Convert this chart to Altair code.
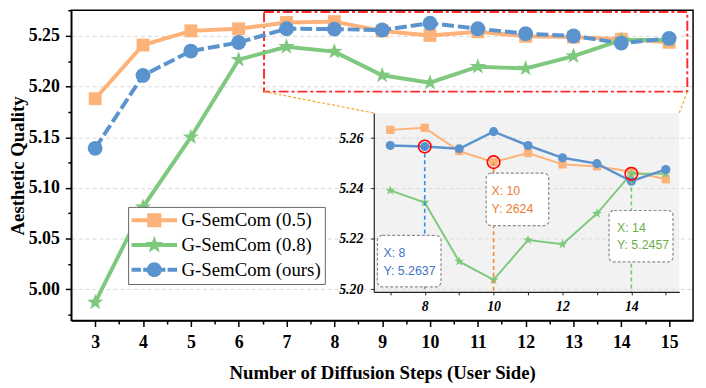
import altair as alt
import pandas as pd

# ---------------- data ----------------
STEPS = [3, 4, 5, 6, 7, 8, 9, 10, 11, 12, 13, 14, 15]
SERIES_NAMES = ["G-SemCom (0.5)", "G-SemCom (0.8)", "G-SemCom (ours)"]
QUALITY_05 = [5.188, 5.241, 5.255, 5.257, 5.2633, 5.2641, 5.2549, 5.2505, 5.2541, 5.2496, 5.2488, 5.2468, 5.2437]
QUALITY_08 = [4.987, 5.081, 5.150, 5.2265, 5.2393, 5.2345, 5.2111, 5.2038, 5.2196, 5.2179, 5.2301, 5.2459, 5.2459]
QUALITY_OURS = [5.139, 5.211, 5.235, 5.2435, 5.2571, 5.2567, 5.2558, 5.2626, 5.2571, 5.2522, 5.2499, 5.2429, 5.2476]
SERIES_VALUES = [QUALITY_05, QUALITY_08, QUALITY_OURS]

MAIN_X_TICKS = [3, 3.5, 4, 4.5, 5, 5.5, 6, 6.5, 7, 7.5, 8, 8.5, 9, 9.5, 10, 10.5, 11, 11.5, 12, 12.5, 13, 13.5, 14, 14.5, 15]
MAIN_Y_TICKS = [4.975, 5.0, 5.025, 5.05, 5.075, 5.1, 5.125, 5.15, 5.175, 5.2, 5.225, 5.25, 5.275]
INSET_X_TICKS = [7, 8, 9, 10, 11, 12, 13, 14, 15]
INSET_Y_TICKS = [5.20, 5.22, 5.24, 5.26]
INSET_FIRST_STEP = 7

HIGHLIGHT_STEPS = [8, 10, 14]
HIGHLIGHT_SERIES = [2, 0, 1]
ANNOT_X_TEXT = ["X: 8", "X: 10", "X: 14"]
ANNOT_Y_TEXT = ["Y: 5.2637", "Y: 2624", "Y: 5.2457"]

# ---------------- layout / style ----------------
W, H = 629, 314
MAIN_X_DOMAIN = [2.5, 15.5]
MAIN_Y_DOMAIN = [4.969, 5.2754]
ZOOM_BOX = [6.53, 15.38, 5.195, 5.2735]          # red dash-dot box (main units)
INSET_X_DOMAIN = [6.52, 15.39]
INSET_Y_DOMAIN = [5.199, 5.270]
INSET_X_RANGE = [306, 615]
INSET_Y_RANGE = [285, 104]

# annotation boxes (inset units)
ANNOT_BOX_X0 = [6.626, 9.784, 13.352]
ANNOT_BOX_X1 = [8.472, 11.601, 15.209]
ANNOT_BOX_Y0 = [5.2010, 5.2253, 5.2109]
ANNOT_BOX_Y1 = [5.2214, 5.2461, 5.2313]
ANNOT_TEXT_X = [6.80, 9.936, 13.582]
ANNOT_ROW1_Y = [5.2143, 5.2390, 5.2245]
ANNOT_ROW2_Y = [5.2073, 5.2319, 5.2176]

COLORS = ["#FDB27A", "#7FC97F", "#5B93CF"]
STAR = ("M0,-1.25L0.294,-0.405L1.19,-0.39L0.476,0.155L0.735,1.01L0,0.5"
        "L-0.735,1.01L-0.476,0.155L-1.19,-0.39L-0.294,-0.405Z")
SHAPES = ["square", STAR, "circle"]
MAIN_SIZES = [170, 190, 225]
INSET_SIZES = [70, 70, 85]
TEXT_COLORS = ["#4472C4", "#ED7D31", "#70AD47"]
GUIDE_COLORS = ["#2f8cf0", "#f08a3c", "#6ccc6c"]

LEGEND_PATHS = [
    "M-3.07,-0.27H3.07V0.27H-3.07Z M-0.95,-0.95H0.95V0.95H-0.95Z",
    "M-3.07,-0.27H3.07V0.27H-3.07Z " + STAR,
    "M-3.07,-0.27H-1.8V0.27H-3.07Z M-1.5,-0.27H1.5V0.27H-1.5Z M1.8,-0.27H3.07V0.27H1.8Z M-1,0A1,1 0 1,1 1,0A1,1 0 1,1 -1,0Z",
]

SERIF = "Liberation Serif"


def main_x(px):
    return MAIN_X_DOMAIN[0] + px / W * (MAIN_X_DOMAIN[1] - MAIN_X_DOMAIN[0])


def main_y(py):
    return MAIN_Y_DOMAIN[1] - py / H * (MAIN_Y_DOMAIN[1] - MAIN_Y_DOMAIN[0])


# ---------------- main scales / axes ----------------
major_y_test = "abs(datum.value*20 - round(datum.value*20)) < 0.01"
main_x_axis = alt.Axis(
    orient="bottom",
    values=MAIN_X_TICKS,
    labelExpr="datum.value % 1 === 0 ? format(datum.value, 'd') : ''",
    tickSize={"condition": {"test": "datum.value % 1 !== 0", "value": 3.5}, "value": 6},
    tickColor="black", tickWidth=1.5, domainColor="black", domainWidth=1.5,
    grid=False, labelOverlap=False, labelFlush=False,
    labelFont=SERIF, labelFontWeight="bold", labelFontSize=18, labelColor="black", labelPadding=7,
    title="Number of Diffusion Steps (User Side)", titleFont=SERIF, titleFontWeight="bold",
    titleFontSize=19, titleColor="black", titlePadding=13,
)
main_y_axis = alt.Axis(
    orient="left",
    values=MAIN_Y_TICKS,
    labelExpr=f"{major_y_test} ? format(datum.value, '.2f') : ''",
    tickSize={"condition": {"test": major_y_test, "value": 6}, "value": 3.5},
    tickColor="black", tickWidth=1.5, domainColor="black", domainWidth=1.5,
    grid=True, gridDash=[4, 3], gridColor="#cfcfcf", gridWidth=0.8,
    gridOpacity={"condition": {"test": major_y_test, "value": 1}, "value": 0},
    labelOverlap=False, labelFlush=False,
    labelFont=SERIF, labelFontWeight="bold", labelFontSize=18, labelColor="black", labelPadding=6,
    title="Aesthetic Quality", titleFont=SERIF, titleFontWeight="bold",
    titleFontSize=19, titleColor="black", titlePadding=1,
)
XM = alt.X("x:Q", scale=alt.Scale(domain=MAIN_X_DOMAIN, nice=False, zero=False), axis=main_x_axis)
YM = alt.Y("y:Q", scale=alt.Scale(domain=MAIN_Y_DOMAIN, nice=False, zero=False), axis=main_y_axis)

# ---------------- inset scales / axes ----------------
inset_x_axis = alt.Axis(
    orient="bottom", offset=-(H - INSET_Y_RANGE[0]), values=INSET_X_TICKS,
    labelExpr="datum.value % 2 === 0 ? format(datum.value, 'd') : ''",
    tickSize=3, tickColor="#222222", tickWidth=1, domainColor="#222222", domainWidth=1.2,
    grid=False, labelOverlap=False, labelFlush=False, zindex=1,
    labelFont=SERIF, labelFontStyle="italic", labelFontWeight="bold", labelFontSize=14,
    labelColor="black", labelPadding=5, title=None,
)
inset_y_axis = alt.Axis(
    orient="left", offset=-INSET_X_RANGE[0], values=INSET_Y_TICKS, format=".2f",
    tickSize=3, tickColor="#222222", tickWidth=1, domainColor="#222222", domainWidth=1.2,
    grid=False, labelOverlap=False, labelFlush=False, zindex=1,
    labelFont=SERIF, labelFontStyle="italic", labelFontWeight="bold", labelFontSize=14,
    labelColor="black", labelPadding=8, title=None,
)
XI = alt.X("x:Q", scale=alt.Scale(domain=INSET_X_DOMAIN, range=INSET_X_RANGE, nice=False, zero=False), axis=inset_x_axis)
YI = alt.Y("y:Q", scale=alt.Scale(domain=INSET_Y_DOMAIN, range=INSET_Y_RANGE, nice=False, zero=False), axis=inset_y_axis)

# ---------------- main layers ----------------
df_zoom = pd.DataFrame({"x": [ZOOM_BOX[0]], "x2": [ZOOM_BOX[1]], "y": [ZOOM_BOX[2]], "y2": [ZOOM_BOX[3]]})
zoom_rect = alt.Chart(df_zoom).mark_rect(
    fill="transparent", stroke="#ff2b2b", strokeWidth=2, strokeDash=[10, 3, 3, 3]
).encode(x=XM, x2="x2:Q", y=YM, y2="y2:Q")

df_conn = pd.DataFrame({
    "x": [ZOOM_BOX[0], ZOOM_BOX[1]],
    "y": [ZOOM_BOX[2], ZOOM_BOX[2]],
    "x2": [main_x(INSET_X_RANGE[0]), main_x(INSET_X_RANGE[1])],
    "y2": [main_y(INSET_Y_RANGE[1]), main_y(INSET_Y_RANGE[1])],
})
connectors = alt.Chart(df_conn).mark_rule(
    color="#f5a623", strokeWidth=1.2, strokeDash=[3, 2]
).encode(x=XM, x2="x2:Q", y=YM, y2="y2:Q")

main_layers = [zoom_rect, connectors]
for i, vals in enumerate(SERIES_VALUES):
    df = pd.DataFrame({"x": STEPS, "y": vals})
    line_kw = dict(color=COLORS[i], strokeWidth=4)
    if i == 2:
        line_kw["strokeDash"] = [12, 4]
    main_layers.append(alt.Chart(df).mark_line(**line_kw).encode(x=XM, y=YM))
    main_layers.append(
        alt.Chart(df).mark_point(shape=SHAPES[i], filled=True, size=MAIN_SIZES[i],
                                 color=COLORS[i], opacity=1, strokeWidth=0).encode(x=XM, y=YM)
    )

df_all = pd.concat(
    [pd.DataFrame({"x": STEPS, "y": v, "series": n}) for n, v in zip(SERIES_NAMES, SERIES_VALUES)],
    ignore_index=True,
)
legend_cfg = dict(
    orient="none", legendX=57.5, legendY=199, title=None,
    labelFont=SERIF, labelFontSize=19, labelColor="black", labelLimit=0,
    symbolSize=225, symbolOpacity=1, symbolStrokeWidth=0,
    symbolOffset=13, labelOffset=18, padding=4, rowPadding=5,
    strokeColor="#666666", fillColor="white",
)
legend_layer = alt.Chart(df_all).mark_point(filled=True, opacity=0, size=225).encode(
    x=XM, y=YM,
    color=alt.Color("series:N", scale=alt.Scale(domain=SERIES_NAMES, range=COLORS),
                    sort=SERIES_NAMES, legend=alt.Legend(**legend_cfg)),
    shape=alt.Shape("series:N", scale=alt.Scale(domain=SERIES_NAMES, range=LEGEND_PATHS),
                    sort=SERIES_NAMES, legend=alt.Legend(**legend_cfg)),
)
main_layers.append(legend_layer)
main = alt.layer(*main_layers)

# ---------------- inset layers ----------------
df_bg = pd.DataFrame({"x": [INSET_X_DOMAIN[0]], "x2": [INSET_X_DOMAIN[1]],
                      "y": [INSET_Y_DOMAIN[0]], "y2": [INSET_Y_DOMAIN[1]]})
inset_bg = alt.Chart(df_bg).mark_rect(fill="#f2f2f2").encode(x=XI, x2="x2:Q", y=YI, y2="y2:Q")

df_grid = pd.DataFrame({"y": INSET_Y_TICKS, "x": INSET_X_DOMAIN[0], "x2": INSET_X_DOMAIN[1]})
inset_grid = alt.Chart(df_grid).mark_rule(color="#d6d6d6", strokeWidth=0.8, strokeDash=[4, 3]).encode(
    x=XI, x2="x2:Q", y=YI)

inset_layers = [inset_bg, inset_grid]
inset_widths = [2, 2, 2.5]
for i, vals in enumerate(SERIES_VALUES):
    df = pd.DataFrame({"x": STEPS, "y": vals})
    df = df[df["x"] >= INSET_FIRST_STEP]
    inset_layers.append(alt.Chart(df).mark_line(color=COLORS[i], strokeWidth=inset_widths[i]).encode(x=XI, y=YI))
    inset_layers.append(
        alt.Chart(df).mark_point(shape=SHAPES[i], filled=True, size=INSET_SIZES[i],
                                 color=COLORS[i], opacity=1, strokeWidth=0).encode(x=XI, y=YI)
    )

hl_y = [SERIES_VALUES[s][STEPS.index(st)] for st, s in zip(HIGHLIGHT_STEPS, HIGHLIGHT_SERIES)]
for k in range(3):
    df_g = pd.DataFrame({"x": [HIGHLIGHT_STEPS[k]], "y": [hl_y[k]], "y2": [INSET_Y_DOMAIN[0]]})
    inset_layers.append(
        alt.Chart(df_g).mark_rule(color=GUIDE_COLORS[k], strokeWidth=1.6, strokeDash=[4, 3]).encode(
            x=XI, y=YI, y2="y2:Q")
    )
df_hl = pd.DataFrame({"x": HIGHLIGHT_STEPS, "y": hl_y})
inset_layers.append(
    alt.Chart(df_hl).mark_point(shape="circle", filled=False, size=160, color="#ff0000",
                                strokeWidth=1.6, opacity=1).encode(x=XI, y=YI)
)
for k in range(3):
    df_b = pd.DataFrame({"x": [ANNOT_BOX_X0[k]], "x2": [ANNOT_BOX_X1[k]],
                         "y": [ANNOT_BOX_Y0[k]], "y2": [ANNOT_BOX_Y1[k]]})
    inset_layers.append(
        alt.Chart(df_b).mark_rect(fill="white", stroke="#8c8c8c", strokeWidth=1.2,
                                  strokeDash=[3, 2], cornerRadius=5).encode(x=XI, x2="x2:Q", y=YI, y2="y2:Q")
    )
    df_t = pd.DataFrame({"x": [ANNOT_TEXT_X[k], ANNOT_TEXT_X[k]],
                         "y": [ANNOT_ROW1_Y[k], ANNOT_ROW2_Y[k]],
                         "t": [ANNOT_X_TEXT[k], ANNOT_Y_TEXT[k]]})
    inset_layers.append(
        alt.Chart(df_t).mark_text(align="left", baseline="middle", font="Liberation Sans",
                                  fontSize=12.5, color=TEXT_COLORS[k]).encode(x=XI, y=YI, text="t:N")
    )
inset = alt.layer(*inset_layers)

chart = (
    alt.layer(main, inset)
    .resolve_scale(x="independent", y="independent")
    .properties(width=W, height=H, padding={"left": 64, "top": 0, "right": 5, "bottom": 66},
                autosize=alt.AutoSizeParams(type="none"))
    .configure_view(stroke="black", strokeWidth=1.5)
)

chart.save("out.html", embed_options={"renderer": "svg", "actions": False})
